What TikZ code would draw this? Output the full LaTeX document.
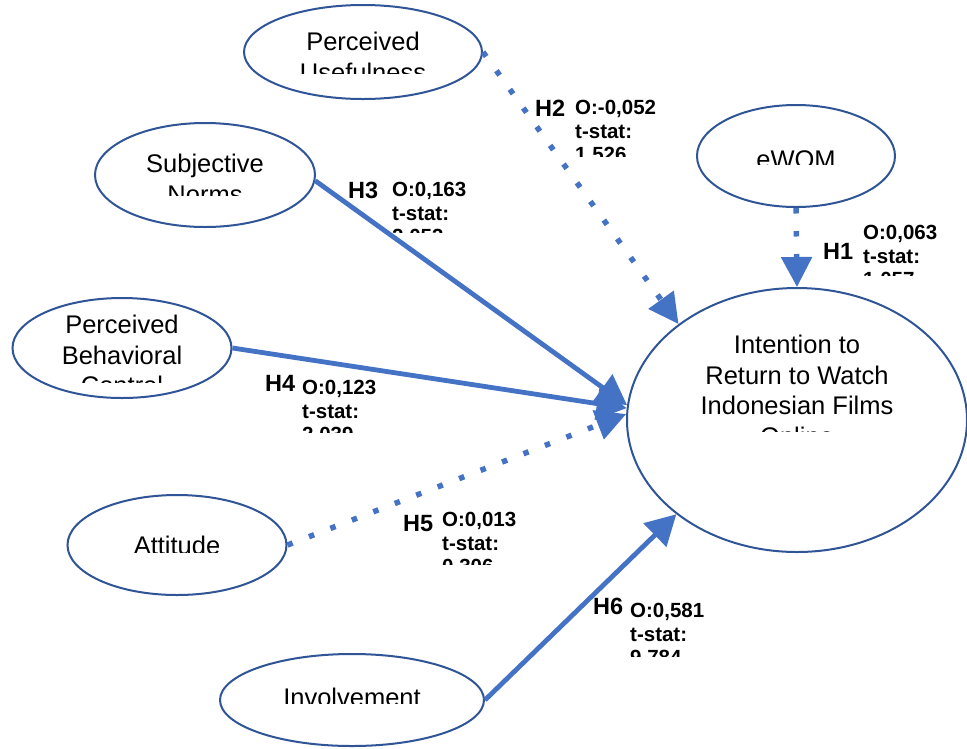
\documentclass[tikz,border=0pt]{standalone}
\usepackage{fontspec}
\setmainfont{Liberation Sans}
\usetikzlibrary{arrows.meta,shapes.geometric}
\definecolor{edgeblue}{HTML}{2F5597}
\definecolor{arrowblue}{HTML}{4472C4}
\tikzset{
  construct/.style={ellipse, draw=edgeblue, line width=2pt, fill=white, inner sep=0pt},
  ctext/.style={anchor=north, inner sep=0pt, align=center, font=\fontsize{25.5}{30.5}\selectfont},
  hlab/.style={anchor=north west, inner sep=0pt, font=\bfseries\fontsize{23.5}{25}\selectfont},
  slab/.style={anchor=north west, inner sep=0pt, align=left, font=\bfseries\fontsize{20.5}{23.5}\selectfont},
  solidpath/.style={draw=arrowblue, line width=4.8pt, -{Triangle[length=30pt,width=32pt]}},
  dotpath/.style={draw=arrowblue, line width=5.5pt, dash pattern=on 5.5pt off 17.5pt, -{Triangle[length=30pt,width=30pt]}}
}
\begin{document}
\begin{tikzpicture}[x=1pt,y=-1pt]
\useasboundingbox (0,0) rectangle (967,748);
% constructs
\node[construct, minimum width=238pt, minimum height=94pt] (PU) at (363,52) {};
\node[construct, minimum width=220pt, minimum height=104pt] (SN) at (205,175) {};
\node[construct, minimum width=198pt, minimum height=102pt] (EW) at (796,156) {};
\node[construct, minimum width=219pt, minimum height=100pt] (PBC) at (122,348) {};
\node[construct, minimum width=219pt, minimum height=100pt] (ATT) at (177,545) {};
\node[construct, minimum width=264pt, minimum height=92pt] (INV) at (352,700) {};
\node[construct, minimum width=340pt, minimum height=264pt] (INT) at (797,420) {};
% connectors
\draw[dotpath] (PU.east) -- (INT.141);
\draw[dotpath] (EW.south) -- (INT.north);
\draw[solidpath] (SN.-3) -- (INT.175);
\draw[solidpath] (PBC.east) -- (INT.176);
\draw[dotpath] (ATT.east) -- (INT.178);
\draw[solidpath] (INV.east) -- (INT.218);
% construct texts (clipped as in the source)
\begin{scope}\clip (240,10) rectangle (490,73);
\node[ctext] (tPU) at (363,32) {Perceived\\Usefulness};\end{scope}
\begin{scope}\clip (95,130) rectangle (316,195);
\node[ctext] (tSN) at (205,154) {Subjective\\Norms};\end{scope}
\begin{scope}\clip (700,110) rectangle (890,164);
\node[ctext] (tEW) at (796,150) {eWOM};\end{scope}
\begin{scope}\clip (13,300) rectangle (232,382);
\node[ctext] (tPBC) at (122,315) {Perceived\\Behavioral\\Control};\end{scope}
\begin{scope}\clip (68,500) rectangle (287,552);
\node[ctext] (tATT) at (177,536) {Attitude};\end{scope}
\begin{scope}\clip (220,660) rectangle (485,703);
\node[ctext] (tINV) at (352,688) {Involvement};\end{scope}
\begin{scope}\clip (630,300) rectangle (965,431);
\node[ctext] (tINT) at (797,335) {Intention to\\Return to Watch\\Indonesian Films\\Online};\end{scope}
% path labels (clipped as in the source)
\begin{scope}\clip (520,90) rectangle (720,156);
\node[hlab] (h2) at (535,100) {H2};
\node[slab] (s2) at (575,100) {O:-0,052\\t-stat:\\1,526};\end{scope}
\begin{scope}\clip (330,170) rectangle (520,232);
\node[hlab] (h3) at (348,182) {H3};
\node[slab] (s3) at (392,182) {O:0,163\\t-stat:\\2,053};\end{scope}
\begin{scope}\clip (810,215) rectangle (967,275);
\node[hlab] (h1) at (823,243) {H1};
\node[slab] (s1) at (863,225) {O:0,063\\t-stat:\\1,057};\end{scope}
\begin{scope}\clip (250,365) rectangle (450,432);
\node[hlab] (h4) at (265,375) {H4};
\node[slab] (s4) at (302,380) {O:0,123\\t-stat:\\2,039};\end{scope}
\begin{scope}\clip (390,500) rectangle (580,564);
\node[hlab] (h5) at (403,515) {H5};
\node[slab] (s5) at (442,512) {O:0,013\\t-stat:\\0,306};\end{scope}
\begin{scope}\clip (580,590) rectangle (780,656);
\node[hlab] (h6) at (593,598) {H6};
\node[slab] (s6) at (630,603) {O:0,581\\t-stat:\\9,784};\end{scope}
\end{tikzpicture}
\end{document}
